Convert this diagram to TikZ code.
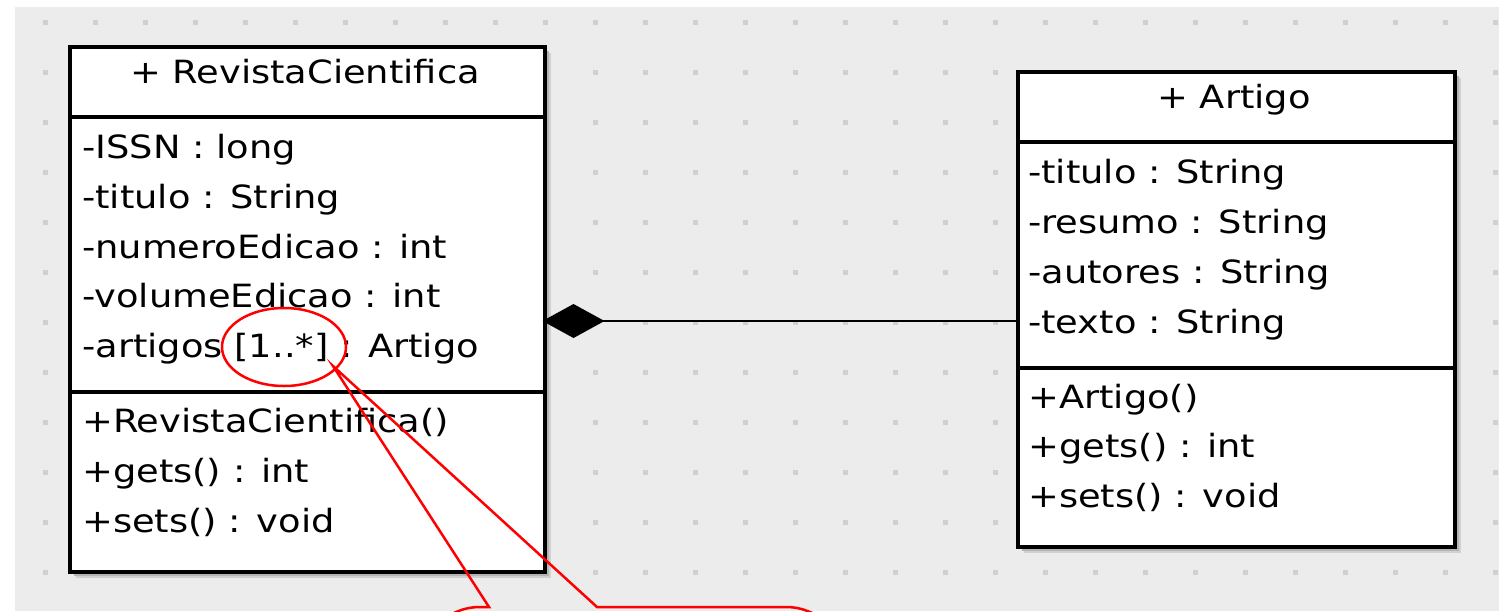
\documentclass[tikz,border=0pt]{standalone}
\usepackage{fontspec}
\newfontfamily\umlfont[FakeStretch=1.15]{DejaVu Sans}
\usetikzlibrary{arrows.meta,shapes.geometric,shadows,calc}

\definecolor{canvas}{HTML}{ECECEC}
\definecolor{griddot}{HTML}{D0D0D0}
\definecolor{shadenear}{HTML}{B4B4B4}
\definecolor{shadefar}{HTML}{D0D0D0}

\tikzset{
  classbox/.style={rectangle, draw=black, fill=white, line width=3.5pt,
    inner sep=0pt, anchor=north west,
    drop shadow={shadow xshift=6pt, shadow yshift=-6pt, fill=shadefar, opacity=1},
    drop shadow={shadow xshift=4pt, shadow yshift=-4pt, fill=shadenear, opacity=1}},
  compartment/.style={line width=3.5pt},
  member/.style={anchor=base west, inner sep=0pt,
    font=\umlfont\fontsize{32}{38}\selectfont},
  classname/.style={anchor=base, inner sep=0pt,
    font=\umlfont\fontsize{32}{38}\selectfont},
  composition/.style={line width=2.5pt, {Diamond[length=62pt,width=34pt]}-},
  remark/.style={draw=red, line width=2.5pt},
}

\begin{document}
\begin{tikzpicture}[x=1pt, y=-1pt]
\useasboundingbox (0,0) rectangle (1499,611);
\begin{scope}
\clip (0,0) rectangle (1499,611);

% drawing canvas with its dotted grid
\fill[white] (0,0) rectangle (1499,611);
\fill[canvas] (15,7) rectangle (1499,611);
\foreach \x in {45,95,...,1495}
  \foreach \y in {22,72,...,572}
    \fill[griddot] (\x-2.5,\y-2.5) rectangle ++(5,5);

% class RevistaCientifica
\node[classbox, minimum width=475, minimum height=525] (rc) at (68,45) {};
\draw[compartment] ($(rc.north west)+(0,72)$) -- ($(rc.north east)+(0,72)$);
\draw[compartment] ($(rc.north west)+(0,347)$) -- ($(rc.north east)+(0,347)$);
\node[classname] (rc-name) at (305,83) {+ RevistaCientifica};
\node[member] (rc-a1) at (82,158) {-ISSN : long};
\node[member] (rc-a2) at (82,208) {-titulo : String};
\node[member] (rc-a3) at (82,258) {-numeroEdicao : int};
\node[member] (rc-a4) at (82,307) {-volumeEdicao : int};
\node[member] (rc-a5) at (82,357) {-artigos [1..*] : Artigo};
\node[member] (rc-m1) at (82,432) {+RevistaCientifica()};
\node[member] (rc-m2) at (82,482) {+gets() : int};
\node[member] (rc-m3) at (82,532) {+sets() : void};

% class Artigo
\node[classbox, minimum width=437, minimum height=475] (art) at (1016,70) {};
\draw[compartment] ($(art.north west)+(0,72)$) -- ($(art.north east)+(0,72)$);
\draw[compartment] ($(art.north west)+(0,298)$) -- ($(art.north east)+(0,298)$);
\node[classname] (art-name) at (1234,108) {+ Artigo};
\node[member] (art-a1) at (1028,183) {-titulo : String};
\node[member] (art-a2) at (1028,233) {-resumo : String};
\node[member] (art-a3) at (1028,283) {-autores : String};
\node[member] (art-a4) at (1028,333) {-texto : String};
\node[member] (art-m1) at (1028,408) {+Artigo()};
\node[member] (art-m2) at (1028,457) {+gets() : int};
\node[member] (art-m3) at (1028,507) {+sets() : void};

% composition: RevistaCientifica owns its Artigo parts
\coordinate (rc-port) at ($(rc.north east)+(-4,276)$);
\coordinate (art-port) at ($(art.north west)+(0,251)$);
\draw[composition] (rc-port) -- (art-port);

% remark on the multiplicity
\node[remark, ellipse, minimum width=124, minimum height=78, inner sep=0pt] (mult) at (284,347) {};
\coordinate (note-tip) at (333,366);
\draw[remark, line join=miter] (note-tip) -- (597,607) -- (786,607)
  arc[start angle=270, end angle=360, radius=60] -- (846,720) -- (420,720) -- (420,667)
  arc[start angle=180, end angle=270, radius=60] -- (489,607) -- cycle;
\end{scope}
\end{tikzpicture}
\end{document}
